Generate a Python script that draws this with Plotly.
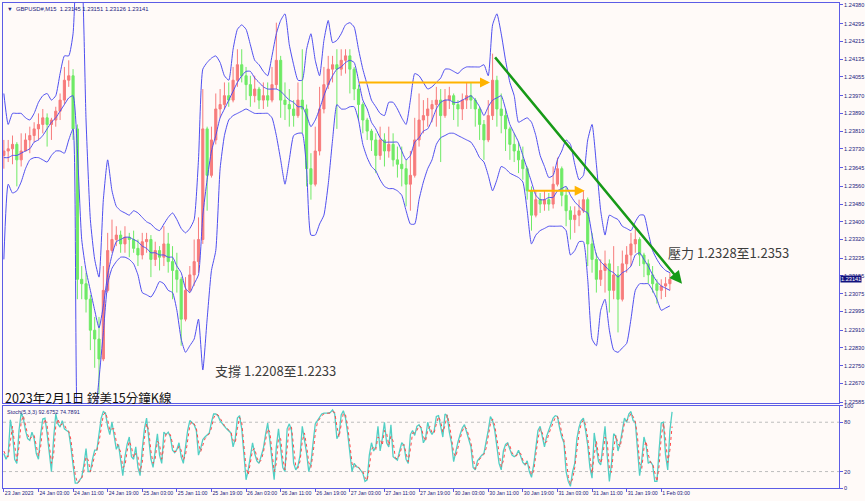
import plotly.graph_objects as go

# ---------------- DATA (GBPUSD, hourly aggregation of the M15 chart) ----------------
# bar index = trading hours since 23 Jan 2023 19:00 (weekend removed)
opens = [1.2370,1.2372,1.2373,1.2375,1.2368,1.2372,1.2377,1.2379,1.2382,1.2384,
         1.2387,1.2384,1.2386,1.2390,1.2395,1.2404,1.2406,1.2382,1.2314,1.2312,
         1.2305,1.2291,1.2287,1.2278,1.2309,1.2327,1.2332,1.2334,1.2330,1.2333,
         1.2332,1.2328,1.2325,1.2331,1.2332,1.2323,1.2327,1.2324,1.2330,1.2322,
         1.2318,1.2314,1.2296,1.2309,1.2316,1.2322,1.2332,1.2382,1.2361,1.2377,
         1.2391,1.2393,1.2397,1.2395,1.2404,1.2411,1.2406,1.2402,1.2397,1.2400,
         1.2395,1.2397,1.2395,1.2402,1.2413,1.2395,1.2393,1.2391,1.2388,1.2395,
         1.2391,1.2364,1.2357,1.2372,1.2391,1.2402,1.2409,1.2411,1.2409,1.2413,
         1.2415,1.2409,1.2400,1.2393,1.2386,1.2381,1.2377,1.2370,1.2377,1.2372,
         1.2375,1.2368,1.2366,1.2364,1.2357,1.2361,1.2377,1.2386,1.2388,1.2391,
         1.2393,1.2395,1.2388,1.2395,1.2397,1.2393,1.2391,1.2395,1.2397,1.2395,
         1.2391,1.2384,1.2377,1.2388,1.2404,1.2391,1.2388,1.2382,1.2375,1.2372,
         1.2368,1.2364,1.2354,1.2343,1.2350,1.2348,1.2350,1.2348,1.2357,1.2364,
         1.2352,1.2345,1.2341,1.2343,1.2345,1.2350,1.2330,1.2323,1.2314,1.2318,
         1.2321,1.2309,1.2316,1.2305,1.2321,1.2325,1.2330,1.2332,1.2325,1.2321,
         1.2316,1.2312,1.2309,1.2311,1.2312]
highs = [1.2377,1.2377,1.2379,1.2376,1.2380,1.2380,1.2383,1.2385,1.2389,1.2391,
         1.2389,1.2387,1.2392,1.2398,1.2410,1.2413,1.2409,1.2384,1.2320,1.2317,
         1.2307,1.2297,1.2297,1.2320,1.2335,1.2341,1.2338,1.2336,1.2338,1.2335,
         1.2336,1.2332,1.2335,1.2335,1.2334,1.2331,1.2329,1.2338,1.2335,1.2329,
         1.2326,1.2315,1.2315,1.2320,1.2332,1.2342,1.2400,1.2383,1.2383,1.2398,
         1.2400,1.2403,1.2403,1.2410,1.2418,1.2418,1.2410,1.2406,1.2406,1.2401,
         1.2403,1.2403,1.2410,1.2430,1.2415,1.2403,1.2400,1.2395,1.2403,1.2418,
         1.2393,1.2371,1.2383,1.2401,1.2410,1.2415,1.2415,1.2418,1.2418,1.2418,
         1.2418,1.2410,1.2402,1.2394,1.2387,1.2382,1.2380,1.2383,1.2380,1.2383,
         1.2380,1.2374,1.2374,1.2368,1.2372,1.2387,1.2398,1.2395,1.2396,1.2395,
         1.2401,1.2400,1.2400,1.2401,1.2398,1.2395,1.2398,1.2403,1.2403,1.2396,
         1.2392,1.2386,1.2395,1.2416,1.2406,1.2398,1.2391,1.2383,1.2380,1.2376,
         1.2374,1.2365,1.2356,1.2354,1.2353,1.2354,1.2353,1.2365,1.2369,1.2365,
         1.2356,1.2347,1.2347,1.2350,1.2354,1.2351,1.2335,1.2326,1.2323,1.2327,
         1.2323,1.2329,1.2320,1.2327,1.2329,1.2335,1.2337,1.2333,1.2326,1.2323,
         1.2320,1.2314,1.2314,1.2315,1.2317]
lows = [1.2364,1.2367,1.2366,1.2356,1.2365,1.2372,1.2371,1.2376,1.2377,1.2380,
        1.2374,1.2377,1.2383,1.2386,1.2393,1.2401,1.2377,1.2305,1.2305,1.2299,
        1.2282,1.2274,1.2262,1.2277,1.2308,1.2326,1.2329,1.2326,1.2326,1.2324,
        1.2326,1.2320,1.2323,1.2326,1.2315,1.2320,1.2318,1.2320,1.2317,1.2305,
        1.2308,1.2284,1.2295,1.2308,1.2311,1.2317,1.2330,1.2345,1.2360,1.2375,
        1.2387,1.2391,1.2392,1.2394,1.2401,1.2403,1.2395,1.2392,1.2394,1.2391,
        1.2391,1.2392,1.2394,1.2400,1.2387,1.2386,1.2383,1.2383,1.2387,1.2380,
        1.2356,1.2350,1.2356,1.2370,1.2389,1.2400,1.2403,1.2382,1.2406,1.2407,
        1.2398,1.2395,1.2386,1.2380,1.2377,1.2372,1.2362,1.2368,1.2365,1.2369,
        1.2365,1.2360,1.2356,1.2347,1.2345,1.2360,1.2374,1.2380,1.2383,1.2385,
        1.2383,1.2367,1.2387,1.2391,1.2386,1.2383,1.2386,1.2391,1.2391,1.2383,
        1.2377,1.2368,1.2376,1.2386,1.2383,1.2380,1.2372,1.2368,1.2367,1.2362,
        1.2359,1.2350,1.2336,1.2342,1.2344,1.2345,1.2345,1.2346,1.2356,1.2347,
        1.2338,1.2332,1.2335,1.2338,1.2344,1.2320,1.2317,1.2308,1.2311,1.2308,
        1.2299,1.2305,1.2290,1.2304,1.2317,1.2320,1.2326,1.2320,1.2315,1.2312,
        1.2308,1.2303,1.2305,1.2306,1.2309]
closes = [1.2372,1.2373,1.2375,1.2368,1.2372,1.2377,1.2379,1.2382,1.2384,1.2387,
          1.2384,1.2386,1.2390,1.2395,1.2404,1.2406,1.2382,1.2314,1.2312,1.2305,
          1.2291,1.2287,1.2278,1.2309,1.2327,1.2332,1.2334,1.2330,1.2333,1.2332,
          1.2328,1.2325,1.2331,1.2332,1.2323,1.2327,1.2324,1.2330,1.2322,1.2318,
          1.2314,1.2296,1.2309,1.2316,1.2322,1.2332,1.2382,1.2361,1.2377,1.2391,
          1.2393,1.2397,1.2395,1.2404,1.2411,1.2406,1.2402,1.2397,1.2400,1.2395,
          1.2397,1.2395,1.2402,1.2413,1.2395,1.2393,1.2391,1.2388,1.2395,1.2391,
          1.2364,1.2357,1.2372,1.2391,1.2402,1.2409,1.2411,1.2409,1.2413,1.2415,
          1.2409,1.2400,1.2393,1.2386,1.2381,1.2377,1.2370,1.2377,1.2372,1.2375,
          1.2368,1.2366,1.2364,1.2357,1.2361,1.2377,1.2386,1.2388,1.2391,1.2393,
          1.2395,1.2388,1.2395,1.2397,1.2393,1.2391,1.2395,1.2397,1.2395,1.2391,
          1.2384,1.2377,1.2388,1.2404,1.2391,1.2388,1.2382,1.2375,1.2372,1.2368,
          1.2364,1.2354,1.2343,1.2350,1.2348,1.2350,1.2348,1.2357,1.2364,1.2352,
          1.2345,1.2341,1.2343,1.2345,1.2350,1.2330,1.2323,1.2314,1.2318,1.2321,
          1.2309,1.2316,1.2305,1.2321,1.2325,1.2330,1.2332,1.2325,1.2321,1.2316,
          1.2312,1.2309,1.2311,1.2312,1.2314]

# Bollinger-type envelope (upper / middle / lower), same hourly positions
band_upper = [1.2398,1.2384,1.2389,1.2389,1.2389,1.2387,1.2386,1.2389,1.2394,1.2397,
              1.2398,1.2395,1.2397,1.2407,1.2415,1.2415,1.2425,1.2463,1.2454,1.2386,
              1.2341,1.2323,1.2315,1.2350,1.2368,1.2354,1.2347,1.2345,1.2344,1.2343,
              1.2345,1.2344,1.2342,1.2340,1.2339,1.2337,1.2336,1.2339,1.2342,1.2344,
              1.2341,1.2337,1.2335,1.2337,1.2341,1.2368,1.2409,1.2412,1.2414,1.2415,
              1.2412,1.2406,1.2404,1.2418,1.2427,1.2429,1.2427,1.2420,1.2413,1.2411,
              1.2408,1.2406,1.2415,1.2425,1.2431,1.2434,1.2420,1.2411,1.2404,1.2404,
              1.2418,1.2425,1.2413,1.2406,1.2422,1.2431,1.2421,1.2422,1.2425,1.2429,
              1.2430,1.2428,1.2418,1.2409,1.2402,1.2395,1.2392,1.2389,1.2388,1.2394,
              1.2394,1.2391,1.2387,1.2384,1.2395,1.2407,1.2406,1.2403,1.2400,1.2401,
              1.2403,1.2405,1.2409,1.2409,1.2408,1.2407,1.2409,1.2410,1.2410,1.2410,
              1.2410,1.2411,1.2406,1.2429,1.2434,1.2425,1.2413,1.2403,1.2397,1.2385,
              1.2386,1.2387,1.2385,1.2379,1.2370,1.2365,1.2360,1.2361,1.2368,1.2372,
              1.2377,1.2375,1.2366,1.2359,1.2361,1.2377,1.2384,1.2366,1.2345,1.2334,
              1.2343,1.2342,1.2341,1.2338,1.2337,1.2336,1.2340,1.2343,1.2343,1.2335,
              1.2327,1.2323,1.2320,1.2318,1.2317]
band_middle = [1.2369,1.2369,1.2370,1.2370,1.2371,1.2372,1.2373,1.2376,1.2377,1.2379,
               1.2382,1.2385,1.2387,1.2390,1.2393,1.2396,1.2397,1.2372,1.2332,1.2318,
               1.2309,1.2300,1.2292,1.2302,1.2316,1.2325,1.2331,1.2332,1.2333,1.2333,
               1.2332,1.2331,1.2329,1.2328,1.2326,1.2326,1.2325,1.2325,1.2324,1.2324,
               1.2320,1.2317,1.2310,1.2308,1.2312,1.2316,1.2343,1.2359,1.2372,1.2379,
               1.2387,1.2391,1.2395,1.2399,1.2403,1.2406,1.2408,1.2408,1.2405,1.2403,
               1.2401,1.2400,1.2400,1.2400,1.2399,1.2397,1.2395,1.2394,1.2392,1.2392,
               1.2388,1.2383,1.2386,1.2391,1.2397,1.2402,1.2406,1.2409,1.2410,1.2412,
               1.2413,1.2412,1.2404,1.2395,1.2391,1.2385,1.2382,1.2378,1.2376,1.2376,
               1.2376,1.2376,1.2372,1.2368,1.2370,1.2376,1.2378,1.2381,1.2382,1.2386,
               1.2391,1.2394,1.2395,1.2395,1.2394,1.2394,1.2395,1.2396,1.2397,1.2395,
               1.2392,1.2388,1.2392,1.2395,1.2396,1.2397,1.2391,1.2384,1.2380,1.2376,
               1.2370,1.2364,1.2358,1.2352,1.2350,1.2350,1.2351,1.2351,1.2354,1.2355,
               1.2356,1.2352,1.2349,1.2347,1.2345,1.2344,1.2334,1.2325,1.2322,1.2320,
               1.2318,1.2317,1.2315,1.2317,1.2318,1.2320,1.2325,1.2326,1.2323,1.2320,
               1.2316,1.2313,1.2311,1.2310,1.2309]
band_lower = [1.2323,1.2357,1.2353,1.2354,1.2358,1.2364,1.2368,1.2369,1.2369,1.2368,
              1.2367,1.2370,1.2372,1.2372,1.2371,1.2377,1.2382,1.2250,1.2241,1.2237,
              1.2241,1.2250,1.2269,1.2290,1.2312,1.2319,1.2322,1.2324,1.2324,1.2323,
              1.2321,1.2316,1.2308,1.2307,1.2306,1.2309,1.2313,1.2312,1.2309,1.2308,
              1.2300,1.2287,1.2281,1.2284,1.2287,1.2296,1.2273,1.2296,1.2318,1.2327,
              1.2364,1.2379,1.2386,1.2388,1.2389,1.2390,1.2391,1.2390,1.2389,1.2389,
              1.2389,1.2389,1.2387,1.2379,1.2368,1.2357,1.2368,1.2379,1.2380,1.2380,
              1.2364,1.2334,1.2334,1.2339,1.2343,1.2357,1.2377,1.2393,1.2391,1.2391,
              1.2392,1.2392,1.2386,1.2375,1.2369,1.2365,1.2363,1.2359,1.2356,1.2355,
              1.2355,1.2354,1.2352,1.2345,1.2339,1.2339,1.2350,1.2358,1.2364,1.2368,
              1.2375,1.2378,1.2379,1.2380,1.2380,1.2379,1.2378,1.2377,1.2376,1.2373,
              1.2369,1.2367,1.2361,1.2354,1.2359,1.2365,1.2364,1.2362,1.2361,1.2360,
              1.2358,1.2345,1.2330,1.2334,1.2336,1.2337,1.2338,1.2338,1.2338,1.2338,
              1.2336,1.2325,1.2327,1.2331,1.2331,1.2314,1.2287,1.2284,1.2300,1.2305,
              1.2291,1.2282,1.2281,1.2283,1.2285,1.2296,1.2309,1.2312,1.2312,1.2312,
              1.2309,1.2305,1.2300,1.2301,1.2302]

# Stochastic(5,3,3), read every half hour
stoch_k = [42,35,40,83,67,35,30,70,91,85, 70,60,58,68,60,42,35,65,84,85,
           66,40,20,60,90,78,74,82,72,70, 68,50,25,6,6,10,13,28,48,20,
           20,35,46,46,65,85,93,91,75,65, 80,65,47,53,35,15,38,53,62,38,
           35,50,25,15,47,72,85,55,35,25, 48,66,40,30,68,65,68,62,46,43,
           47,55,38,30,50,70,82,80,77,70, 40,48,59,62,65,67,80,90,90,88,
           82,78,75,72,70,67,50,60,85,88, 72,40,10,22,38,55,42,33,30,38,
           48,65,79,58,30,10,50,72,48,25, 20,72,78,70,30,22,27,40,75,60,
           42,20,30,55,78,82,86,90,91,91, 91,92,95,90,60,65,89,94,85,66,
           40,20,30,26,25,22,18,8,10,40, 55,45,50,75,45,60,80,55,50,77,
           38,36,34,45,55,52,35,30,65,70, 64,75,77,72,55,60,80,70,65,70,
           87,88,75,62,90,88,68,55,32,45, 56,65,73,77,68,60,50,25,22,33,
           37,40,42,55,70,87,82,70,50,30, 22,45,53,55,47,40,38,40,46,38,
           31,28,33,20,13,28,50,70,75,60, 50,63,70,77,85,88,87,73,62,55,
           20,8,2,20,30,60,74,82,85,70, 52,25,12,67,48,32,28,50,75,40,
           8,30,66,63,45,55,73,85,80,90, 93,82,80,46,15,34,62,52,30,32,
           28,8,8,46,79,80,40,22,70,92.68]
stoch_d = [45,39,38,60,75,52,33,50,80,88, 78,65,59,63,64,51,39,50,74,84,
           76,53,30,40,75,84,76,78,77,71, 69,59,38,16,6,8,12,20,38,34,
           20,28,40,46,56,75,89,92,83,70, 72,72,56,50,44,25,27,45,57,50,
           37,42,38,20,31,60,78,70,45,30, 36,57,53,35,49,66,66,65,54,44,
           45,51,46,34,40,60,76,81,78,73, 55,44,53,60,63,66,73,85,90,89,
           85,80,76,73,71,68,58,55,72,86, 80,56,25,16,30,46,48,37,31,34,
           43,56,72,68,44,20,30,61,60,36, 22,46,75,74,50,26,24,33,57,67,
           51,31,25,42,66,80,84,88,90,91, 91,91,93,92,75,62,77,91,89,75,
           53,30,25,28,25,23,20,13,9,25, 47,50,47,62,60,52,70,67,52,63,
           57,37,35,40,50,53,44,32,47,67, 67,70,76,74,63,57,70,75,67,67,
           78,87,81,68,76,89,78,61,43,38, 50,60,69,75,72,64,55,37,23,27,
           35,38,41,48,62,78,84,76,60,40, 26,33,49,54,51,43,39,39,43,42,
           34,29,30,26,16,20,39,60,72,67, 55,56,66,73,81,86,87,80,67,58,
           37,14,5,11,25,45,67,78,83,77, 61,38,18,40,57,40,30,39,62,57,
           24,19,48,64,54,50,64,79,82,85, 91,87,81,63,30,24,48,57,41,31,
           30,18,8,27,62,79,60,31,46,74.79]

time_tick_hours = [0, 8, 16, 24, 32, 40, 48, 56, 64, 72, 80, 88, 96, 104, 112, 120, 128, 136, 144, 152]
time_tick_labels = ["23 Jan 2023", "24 Jan 03:00", "24 Jan 11:00", "24 Jan 19:00", "25 Jan 03:00",
                    "25 Jan 11:00", "25 Jan 19:00", "26 Jan 03:00", "26 Jan 11:00", "26 Jan 19:00",
                    "27 Jan 03:00", "27 Jan 11:00", "27 Jan 19:00", "30 Jan 03:00", "30 Jan 11:00",
                    "30 Jan 19:00", "31 Jan 03:00", "31 Jan 11:00", "31 Jan 19:00", "1 Feb 03:00"]
price_tick_labels = ["1.24380", "1.24295", "1.24215", "1.24135", "1.24055", "1.23970", "1.23890",
                     "1.23810", "1.23730", "1.23645", "1.23560", "1.23480", "1.23400", "1.23320",
                     "1.23235", "1.23155", "1.23075", "1.22995", "1.22910", "1.22830", "1.22750",
                     "1.22670", "1.22585"]
stoch_levels = [20, 80]
last_price = 1.23141

# drawn objects (time in bar hours, price)
trend_hours = [113.3, 156.8]
trend_prices = [1.2415, 1.2312]
arrow1_hours = [81.8, 112.4]
arrow1_price = 1.2403
arrow2_hours = [120.9, 134.3]
arrow2_price = 1.2354

# ---------------- FIGURE ----------------
hours = list(range(len(closes)))
stoch_hours = [i * 0.5 for i in range(len(stoch_k))]

BG = "#FFFAF8"
FRAME = "#5C5CE6"
LABEL = "#22227E"
BAND = "#4F4FF0"
UP = "#F77C7C"
DOWN = "#6FEA66"
FONT = "Liberation Sans"

fig = go.Figure()
fig.add_trace(go.Candlestick(
    x=hours, open=opens, high=highs, low=lows, close=closes,
    xaxis="x2", yaxis="y2", whiskerwidth=0,
    increasing=dict(line=dict(color=UP, width=1), fillcolor=UP),
    decreasing=dict(line=dict(color=DOWN, width=1), fillcolor=DOWN),
    showlegend=False, hoverinfo="skip"))
for band in (band_upper, band_middle, band_lower):
    fig.add_trace(go.Scatter(
        x=hours, y=band, mode="lines", xaxis="x2", yaxis="y2",
        line=dict(color=BAND, width=1, shape="spline", smoothing=0.5),
        showlegend=False, hoverinfo="skip"))

fig.add_trace(go.Scatter(x=stoch_hours, y=stoch_k, mode="lines", xaxis="x", yaxis="y",
                         line=dict(color="#52CFC4", width=1.3), showlegend=False, hoverinfo="skip"))
fig.add_trace(go.Scatter(x=stoch_hours, y=stoch_d, mode="lines", xaxis="x", yaxis="y",
                         line=dict(color="#FF4A4A", width=1, dash="dot"), showlegend=False, hoverinfo="skip"))

shapes = []
for lv in stoch_levels:
    shapes.append(dict(type="line", xref="x domain", yref="y", x0=0, x1=1, y0=lv, y1=lv,
                       line=dict(color="#BDBDBD", width=1, dash="dot"), layer="below"))

annotations = [
    # green resistance trend arrow
    dict(x=trend_hours[1], y=trend_prices[1], ax=trend_hours[0], ay=trend_prices[0],
         xref="x2", yref="y2", axref="x2", ayref="y2", text="", showarrow=True,
         arrowhead=2, arrowsize=1, arrowwidth=2.5, arrowcolor="#179A17"),
    # orange arrows
    dict(x=arrow1_hours[1], y=arrow1_price, ax=arrow1_hours[0], ay=arrow1_price,
         xref="x2", yref="y2", axref="x2", ayref="y2", text="", showarrow=True,
         arrowhead=2, arrowsize=1, arrowwidth=2, arrowcolor="#FFB300"),
    dict(x=arrow2_hours[1], y=arrow2_price, ax=arrow2_hours[0], ay=arrow2_price,
         xref="x2", yref="y2", axref="x2", ayref="y2", text="", showarrow=True,
         arrowhead=2, arrowsize=1, arrowwidth=2, arrowcolor="#FFB300"),
    # texts
    dict(x=48.3, y=1.2273, xref="x2", yref="y2", xanchor="left", yanchor="middle",
         text="支撐 1.2208至1.2233", showarrow=False,
         font=dict(family="Noto Sans CJK TC", size=13, color="#3C3C3C")),
    dict(x=153.1, y=1.2326, xref="x2", yref="y2", xanchor="left", yanchor="middle",
         text="壓力 1.2328至1.2353", showarrow=False,
         font=dict(family="Noto Sans CJK TC", size=13, color="#3C3C3C")),
    dict(x=0, y=0.1876, xref="paper", yref="paper", xanchor="left", yanchor="middle",
         text="2023年2月1日 鎊美15分鐘K線", showarrow=False,
         font=dict(family="Noto Sans CJK TC", size=12.5, color="#111111")),
    dict(x=0, y=1, xref="paper", yref="paper", xanchor="left", yanchor="top", xshift=2, yshift=-1,
         text="▼  GBPUSD#,M15  1.23145 1.23151 1.23126 1.23141", showarrow=False,
         font=dict(family=FONT, size=5.8, color=LABEL)),
    dict(x=0, y=100, xref="paper", yref="y", xanchor="left", yanchor="top", xshift=2, yshift=-1,
         text="Stoch(5,3,3) 92.6752 74.7891", showarrow=False,
         font=dict(family=FONT, size=5.5, color=LABEL)),
    dict(x=1, y=last_price, xref="paper", yref="y2", xanchor="left", yanchor="middle", xshift=1,
         text=f"{last_price:.5f}", showarrow=False, bgcolor="#12127E", borderpad=0,
         font=dict(family=FONT, size=5.6, color="#FFFFFF")),
]

axis_common = dict(showgrid=False, zeroline=False, showline=True, linecolor=FRAME, linewidth=1,
                   mirror=True, automargin=False)

fig.update_layout(
    width=865, height=501,
    margin=dict(l=3, r=26, t=3, b=13, autoexpand=False),
    paper_bgcolor=BG, plot_bgcolor=BG,
    showlegend=False,
    shapes=shapes, annotations=annotations,
    xaxis=dict(domain=[0, 1], anchor="y", range=[-0.2, 193.1],
               tickmode="array", tickvals=time_tick_hours, ticktext=time_tick_labels,
               tickangle=0, ticks="outside", ticklen=3, tickcolor=FRAME,
               ticklabelposition="outside right", ticklabeloverflow="allow",
               tickfont=dict(family=FONT, size=5.2, color=LABEL),
               rangeslider=dict(visible=False), **axis_common),
    xaxis2=dict(domain=[0, 1], anchor="y2", matches="x", showticklabels=False, ticks="",
                rangeslider=dict(visible=False), **axis_common),
    yaxis=dict(domain=[0, 0.1695], anchor="x", side="right", range=[0, 100],
               tickmode="array", tickvals=[0, 20, 80, 100], ticktext=["0", "20", "80", "100"],
               ticks="outside", ticklen=3, tickcolor=FRAME, ticklabeloverflow="allow",
               tickfont=dict(family=FONT, size=5.6, color=LABEL), **axis_common),
    yaxis2=dict(domain=[0.1753, 1], anchor="x2", side="right", range=[1.22581, 1.24389],
                tickmode="array", tickvals=[float(t) for t in price_tick_labels],
                ticktext=price_tick_labels, ticklabeloverflow="allow",
                ticks="outside", ticklen=3, tickcolor=FRAME,
                tickfont=dict(family=FONT, size=5.6, color=LABEL), **axis_common),
)

fig.write_html("out.html", config={"displayModeBar": False},
               post_script="document.body.style.margin='0';document.body.style.padding='0';"
                           "document.documentElement.style.overflow='hidden';")
